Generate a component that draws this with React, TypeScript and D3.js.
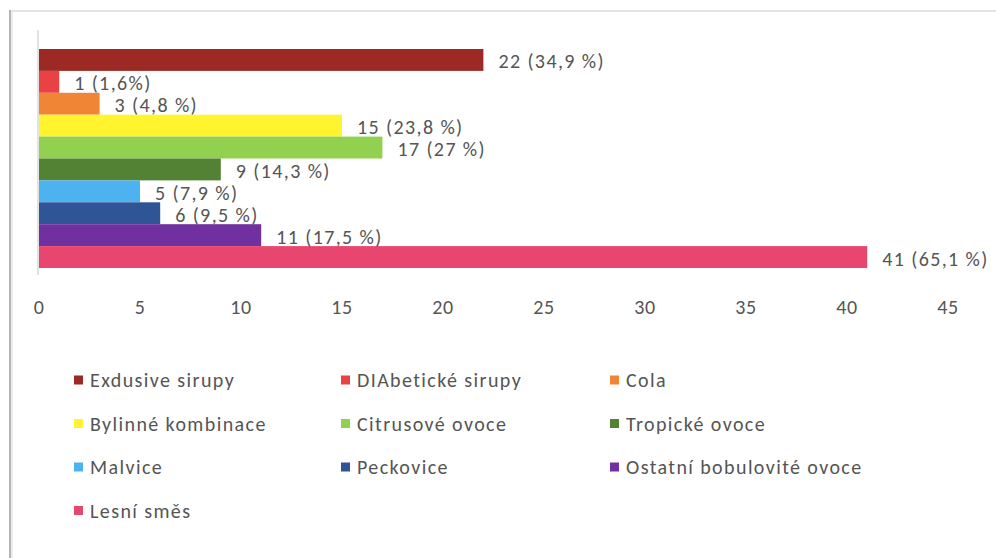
import React from "react";
import * as d3 from "d3";

const categories = [
  "Exclusive sirupy",
  "DIAbetické sirupy",
  "Cola",
  "Bylinné kombinace",
  "Citrusové ovoce",
  "Tropické ovoce",
  "Malvice",
  "Peckovice",
  "Ostatní bobulovité ovoce",
  "Lesní směs",
];
const legendNames = [
  "Exdusive sirupy",
  "DIAbetické sirupy",
  "Cola",
  "Bylinné kombinace",
  "Citrusové ovoce",
  "Tropické ovoce",
  "Malvice",
  "Peckovice",
  "Ostatní bobulovité ovoce",
  "Lesní směs",
];
const values = [22, 1, 3, 15, 17, 9, 5, 6, 11, 41];
const valueLabels = [
  "22 (34,9 %)",
  "1 (1,6%)",
  "3 (4,8 %)",
  "15 (23,8 %)",
  "17 (27 %)",
  "9 (14,3 %)",
  "5 (7,9 %)",
  "6 (9,5 %)",
  "11 (17,5 %)",
  "41 (65,1 %)",
];
const colors = [
  "#9c2923",
  "#ea4145",
  "#ef8535",
  "#fff42e",
  "#92d050",
  "#548235",
  "#4db3f0",
  "#2f5597",
  "#7030a0",
  "#e8466f",
];
const xTicks = [0, 5, 10, 15, 20, 25, 30, 35, 40, 45];

const FONT = "Carlito, Calibri, Lato, sans-serif";
const TEXT = "#555555";

export default function App() {
  const x = d3.scaleLinear().domain([0, 45]).range([39, 948]);
  const y = d3.scaleBand<string>().domain(categories).range([49, 268]).padding(0);

  const legendX = [74, 341, 610];
  const legendY = [380, 423.5, 467, 510.5];

  return (
    <svg
      width={996}
      height={558}
      style={{ position: "absolute", left: 0, top: 0, background: "#fff" }}
    >
      <rect x={0} y={0} width={996} height={558} fill="#fff" />
      {/* frame */}
      <line x1={10} y1={11} x2={996} y2={11} stroke="#e4e4e4" strokeWidth={2} />
      <line x1={10} y1={10} x2={10} y2={558} stroke="#b4b4b4" strokeWidth={2} />
      <line x1={12} y1={12} x2={12} y2={558} stroke="#ececec" strokeWidth={2} />

      {/* axis line */}
      <line x1={x(0) - 1} y1={30} x2={x(0) - 1} y2={275} stroke="#d9d9d9" strokeWidth={1.5} />

      {/* bars */}
      {categories.map((c, i) => (
        <rect
          key={c}
          x={x(0)}
          y={y(c)}
          width={x(values[i]) - x(0)}
          height={y.bandwidth()}
          fill={colors[i]}
        />
      ))}

      {/* value labels */}
      {categories.map((c, i) => (
        <text
          key={c + "l"}
          x={x(values[i]) + 15}
          y={(y(c) as number) + y.bandwidth() / 2 + 1.5}
          dominantBaseline="central"
          fontFamily={FONT}
          fontSize={20}
          letterSpacing={1.4}
          fill={TEXT}
        >
          {valueLabels[i]}
        </text>
      ))}

      {/* x tick labels */}
      {xTicks.map((t) => (
        <text
          key={t}
          x={x(t)}
          y={307}
          textAnchor="middle"
          dominantBaseline="central"
          fontFamily={FONT}
          fontSize={20}
          letterSpacing={0.6}
          fill={TEXT}
        >
          {t}
        </text>
      ))}

      {/* legend */}
      {legendNames.map((n, i) => {
        const lx = legendX[i % 3];
        const ly = legendY[Math.floor(i / 3)];
        return (
          <g key={n} transform={`translate(${lx},${ly})`}>
            <rect x={0} y={-4.5} width={9} height={9} fill={colors[i]} />
            <text
              x={16}
              y={0}
              dominantBaseline="central"
              fontFamily={FONT}
              fontSize={20}
              letterSpacing={1.4}
              fill={TEXT}
            >
              {n}
            </text>
          </g>
        );
      })}
    </svg>
  );
}
